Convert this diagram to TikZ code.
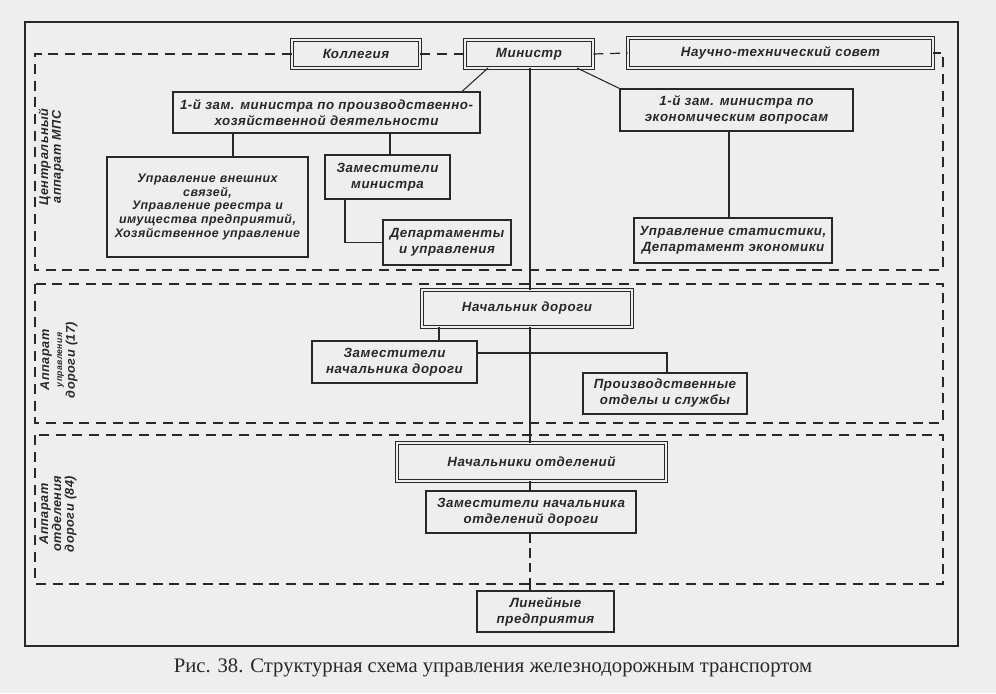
\documentclass[tikz,border=0pt]{standalone}
\usepackage{fontspec}
\setmainfont{Liberation Sans}
\newfontfamily\capfont{Liberation Serif}
\newfontfamily\spfont[LetterSpace=4]{Liberation Sans}
\definecolor{ink}{RGB}{40,40,40}
\definecolor{bg}{RGB}{238,238,238}
\newcommand{\boxfont}{\spfont\fontsize{10}{12}\selectfont\bfseries\itshape}
\newcommand{\smallboxfont}{\spfont\fontsize{9.3}{10.4}\selectfont\bfseries\itshape}
\newcommand{\lblfont}{\spfont\fontsize{9.5}{9.6}\selectfont\bfseries\itshape}
\tikzset{
  bx/.style={draw=ink, line width=0.8pt, fill=bg, align=center, inner sep=0pt, font=\boxfont, text=ink},
  dbx/.style={bx, double=bg, double distance=1.5pt, line width=0.7pt},
  ln/.style={draw=ink, line width=0.8pt},
  dsh/.style={draw=ink, line width=0.9pt, dash pattern=on 7.5pt off 5pt},
  lbl/.style={rotate=90, align=center, font=\lblfont, inner sep=0pt, text=ink},
}
\begin{document}
\begin{tikzpicture}[x=0.75pt,y=-0.75pt]
\useasboundingbox (0,0) rectangle (996,693);
\fill[bg] (0,0) rectangle (996,693);
% outer frame
\draw[ink, line width=0.8pt] (25,22) rectangle (958,646);

% boxes
\node[dbx, minimum width=96pt, minimum height=21pt] (kol) at (356,54) {Коллегия};
\node[dbx, minimum width=96pt, minimum height=21pt] (min) at (529,54) {Министр};
\node[dbx, minimum width=228.75pt, minimum height=22.5pt] (nts) at (780.5,53) {Научно-технический совет};
\node[bx, minimum width=230.25pt, minimum height=30.75pt] (z1) at (326.5,112.5) {1-й зам. министра по производственно-\\хозяйственной деятельности};
\node[bx, minimum width=174.75pt, minimum height=31.5pt] (z2) at (736.5,110) {1-й зам. министра по\\экономическим вопросам};
\node[bx, minimum width=150.75pt, minimum height=75pt, font=\smallboxfont] (uvs) at (207.5,207) {Управление внешних\\связей,\\Управление реестра и\\имущества предприятий,\\Хозяйственное управление};
\node[bx, minimum width=93.75pt, minimum height=33pt] (zm) at (387.5,177) {Заместители\\министра};
\node[bx, minimum width=96pt, minimum height=33.75pt] (dep) at (447,242.5) {Департаменты\\и управления};
\node[bx, minimum width=148.5pt, minimum height=33.75pt] (ust) at (733,240.5) {Управление статистики,\\Департамент экономики};
\node[dbx, minimum width=157.5pt, minimum height=27.75pt] (nd) at (527,308.5) {Начальник дороги};
\node[bx, minimum width=123.75pt, minimum height=31.5pt] (znd) at (394.5,362) {Заместители\\начальника дороги};
\node[bx, minimum width=123pt, minimum height=30.75pt] (pos) at (665,393.5) {Производственные\\отделы и службы};
\node[dbx, minimum width=201.75pt, minimum height=28.5pt] (no) at (531.5,462) {Начальники отделений};
\node[bx, minimum width=157.5pt, minimum height=31.5pt] (zno) at (531,512) {Заместители начальника\\отделений дороги};
\node[bx, minimum width=102.75pt, minimum height=30.75pt] (lp) at (545.5,611.5) {Линейные\\предприятия};

% region dashed frames
\draw[dsh] (kol.west) -- (35,54) -- (35,270) -- (943,270) -- (943,53) -- (nts.east);
\draw[dsh] (kol.east) -- (min.west);
\draw[dsh] (min.east) -- (nts.west);
\draw[dsh] (35,284) rectangle (943,423);
\draw[dsh] (35,435) rectangle (943,584);

% connectors
\coordinate (m1) at (488,68);
\coordinate (m2) at (577,68);
\draw[ln] (m1) -- (z1.north -| 462,0);
\draw[ln] (m2) -- (z2.north west);
\draw[ln] (530,68) -- (530,290);
\draw[ln] (z1.south -| 233,0) -- (uvs.north -| 233,0);
\draw[ln] (z1.south -| 390,0) -- (zm.north -| 390,0);
\draw[ln] (zm.south -| 345,0) |- (dep.west);
\draw[ln] (z2.south -| 729,0) -- (ust.north -| 729,0);
\draw[ln] (nd.south -| 530,0) -- (no.north -| 530,0);
\draw[ln] (nd.south -| 439,0) -- (znd.north -| 439,0);
\draw[ln] (znd.east |- 0,353) -| (pos.north -| 667,0);
\draw[ln] (no.south -| 530,0) -- (zno.north -| 530,0);
\draw[ln, dash pattern=on 7pt off 4pt] (zno.south -| 530,0) -- (530,584);
\draw[ln] (530,584) -- (lp.north -| 530,0);

% side labels
\node[lbl] (l1) at (51,157) {Центральный\\аппарат МПС};
\node[lbl] (l2) at (59,360) {Аппарат\\{\fontsize{6.5}{7}\selectfont управления}\\дороги (17)};
\node[lbl] (l3) at (58,514) {Аппарат\\отделения\\дороги (84)};

% caption
\node[font=\capfont\fontsize{15.5}{17}\selectfont, text=ink, inner sep=0pt] (cap) at (493,668) {Рис. 38. Структурная схема управления железнодорожным транспортом};
\end{tikzpicture}
\end{document}
